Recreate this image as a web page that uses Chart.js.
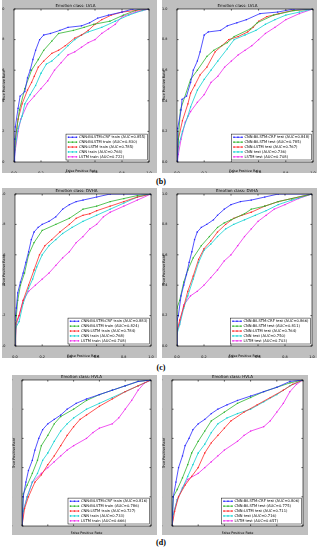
<!DOCTYPE html>
<html><head><meta charset="utf-8">
<script src="https://cdn.jsdelivr.net/npm/chart.js@4.4.1/dist/chart.umd.min.js"></script>
<style>
html,body{margin:0;padding:0;background:#fff;width:320px;height:550px;overflow:hidden;position:relative}
.panel{position:absolute;background:#bfbfbf}
.panel canvas{display:block}
.lab{position:absolute;font-family:"Liberation Serif","DejaVu Serif",serif;font-weight:bold;font-size:8px;line-height:8px;width:24px;text-align:center;color:#000}
</style></head><body>
<div class="lab" style="left:149px;top:178px">(b)</div>
<div class="lab" style="left:149px;top:364px">(c)</div>
<div class="lab" style="left:149px;top:539px">(d)</div>
<script>
// ---------- data ----------
const MODELS = ['CNN-BiLSTM-CRF', 'CNN-BiLSTM', 'CNN-LSTM', 'CNN', 'LSTM'];
const CLASSES = ['LVLA', 'DVHA', 'HVLA'];
const SPLITS = ['train', 'test'];
const TICKS = [0.0, 0.2, 0.4, 0.6, 0.8, 1.0];

const LVLA_TRAIN_AUC = [0.855, 0.830, 0.785, 0.764, 0.722];
const LVLA_TEST_AUC  = [0.848, 0.785, 0.767, 0.736, 0.708];
const DVHA_TRAIN_AUC = [0.883, 0.824, 0.784, 0.768, 0.708];
const DVHA_TEST_AUC  = [0.866, 0.811, 0.764, 0.750, 0.703];
const HVLA_TRAIN_AUC = [0.816, 0.786, 0.727, 0.733, 0.666];
const HVLA_TEST_AUC  = [0.806, 0.775, 0.711, 0.716, 0.657];

// ROC points [FPR, TPR]
const LVLA_TRAIN_CRF = [[0,0],[0.005,0.15],[0.01,0.23],[0.03,0.35],[0.045,0.43],[0.08,0.46],[0.1,0.55],[0.12,0.6],[0.14,0.67],[0.16,0.73],[0.19,0.8],[0.22,0.83],[0.27,0.84],[0.34,0.86],[0.4,0.88],[0.5,0.89],[0.56,0.91],[0.62,0.94],[0.7,0.96],[0.8,0.98],[0.88,1.0],[1,1]];
const LVLA_TRAIN_BIL = [[0,0],[0.01,0.15],[0.04,0.34],[0.08,0.48],[0.13,0.6],[0.18,0.67],[0.22,0.73],[0.28,0.79],[0.33,0.84],[0.44,0.86],[0.52,0.88],[0.59,0.9],[0.71,0.92],[0.81,0.96],[0.93,1.0],[1,1]];
const LVLA_TRAIN_CL  = [[0,0],[0.01,0.15],[0.03,0.28],[0.06,0.38],[0.1,0.47],[0.13,0.52],[0.15,0.56],[0.18,0.62],[0.22,0.66],[0.28,0.71],[0.33,0.73],[0.38,0.76],[0.45,0.81],[0.5,0.83],[0.55,0.86],[0.6,0.9],[0.65,0.93],[0.72,0.96],[0.8,0.98],[0.9,0.99],[1,1]];
const LVLA_TRAIN_CNN = [[0,0],[0.01,0.1],[0.03,0.22],[0.06,0.3],[0.08,0.38],[0.12,0.44],[0.16,0.5],[0.2,0.58],[0.24,0.64],[0.28,0.66],[0.33,0.7],[0.4,0.76],[0.45,0.8],[0.5,0.83],[0.55,0.85],[0.65,0.88],[0.75,0.92],[0.85,0.96],[0.95,0.99],[1,1]];
const LVLA_TRAIN_LST = [[0,0],[0.01,0.08],[0.03,0.2],[0.05,0.28],[0.1,0.38],[0.15,0.43],[0.2,0.48],[0.25,0.53],[0.3,0.6],[0.35,0.65],[0.4,0.7],[0.45,0.72],[0.5,0.75],[0.55,0.78],[0.6,0.8],[0.65,0.84],[0.7,0.87],[0.75,0.9],[0.8,0.95],[0.9,0.98],[1,1]];

const LVLA_TEST_CRF = [[0,0],[0.005,0.22],[0.03,0.34],[0.037,0.41],[0.07,0.43],[0.1,0.52],[0.12,0.6],[0.15,0.66],[0.17,0.72],[0.2,0.83],[0.23,0.85],[0.32,0.86],[0.37,0.89],[0.44,0.91],[0.51,0.93],[0.61,0.97],[0.74,0.98],[0.86,1.0],[1,1]];
const LVLA_TEST_BIL = [[0,0],[0.01,0.15],[0.025,0.34],[0.1,0.54],[0.15,0.6],[0.22,0.69],[0.27,0.73],[0.37,0.78],[0.42,0.82],[0.54,0.87],[0.59,0.91],[0.71,0.96],[0.86,0.99],[1,1]];
const LVLA_TEST_CL  = [[0,0],[0.01,0.15],[0.04,0.27],[0.08,0.38],[0.1,0.45],[0.13,0.5],[0.17,0.57],[0.22,0.62],[0.28,0.72],[0.33,0.76],[0.38,0.8],[0.45,0.82],[0.52,0.85],[0.56,0.88],[0.6,0.92],[0.66,0.95],[0.75,0.97],[0.85,0.99],[1,1]];
const LVLA_TEST_CNN = [[0,0],[0.01,0.1],[0.04,0.2],[0.08,0.3],[0.1,0.36],[0.15,0.47],[0.2,0.54],[0.25,0.6],[0.3,0.66],[0.37,0.74],[0.42,0.8],[0.5,0.83],[0.58,0.86],[0.65,0.9],[0.72,0.93],[0.8,0.96],[0.9,0.98],[1,1]];
const LVLA_TEST_LST = [[0,0],[0.01,0.05],[0.03,0.15],[0.06,0.26],[0.1,0.33],[0.15,0.39],[0.2,0.44],[0.25,0.52],[0.3,0.56],[0.35,0.62],[0.4,0.66],[0.45,0.7],[0.5,0.73],[0.55,0.76],[0.6,0.8],[0.65,0.84],[0.72,0.88],[0.8,0.93],[0.9,0.97],[1,1]];

const DVHA_TRAIN_CRF = [[0,0],[0,0.17],[0.01,0.25],[0.02,0.35],[0.04,0.42],[0.06,0.48],[0.08,0.55],[0.1,0.62],[0.12,0.7],[0.14,0.75],[0.17,0.78],[0.2,0.8],[0.25,0.82],[0.3,0.85],[0.35,0.9],[0.4,0.93],[0.45,0.95],[0.5,0.96],[0.6,0.98],[0.7,1.0],[1,1]];
const DVHA_TRAIN_BIL = [[0,0],[0.01,0.2],[0.02,0.3],[0.04,0.4],[0.07,0.48],[0.1,0.6],[0.14,0.68],[0.2,0.76],[0.3,0.8],[0.4,0.84],[0.5,0.9],[0.6,0.92],[0.7,0.95],[0.8,0.97],[0.9,0.99],[1,1]];
const DVHA_TRAIN_CL  = [[0,0],[0.005,0.15],[0.03,0.2],[0.06,0.3],[0.1,0.4],[0.14,0.5],[0.18,0.6],[0.22,0.66],[0.27,0.7],[0.33,0.75],[0.4,0.8],[0.45,0.84],[0.5,0.86],[0.55,0.87],[0.6,0.89],[0.7,0.92],[0.8,0.95],[0.9,0.98],[1,1]];
const DVHA_TRAIN_CNN = [[0,0],[0.005,0.12],[0.03,0.16],[0.06,0.28],[0.1,0.38],[0.13,0.44],[0.16,0.52],[0.2,0.6],[0.25,0.66],[0.3,0.7],[0.35,0.74],[0.42,0.78],[0.5,0.82],[0.6,0.86],[0.7,0.9],[0.8,0.94],[0.9,0.98],[1,1]];
const DVHA_TRAIN_LST = [[0,0],[0.01,0.14],[0.03,0.2],[0.06,0.3],[0.1,0.36],[0.15,0.4],[0.2,0.44],[0.25,0.48],[0.3,0.53],[0.35,0.58],[0.4,0.62],[0.45,0.68],[0.5,0.72],[0.55,0.77],[0.6,0.8],[0.65,0.85],[0.7,0.88],[0.8,0.92],[0.9,0.96],[1,1]];

const DVHA_TEST_CRF = [[0,0],[0,0.17],[0.01,0.2],[0.03,0.33],[0.05,0.4],[0.07,0.47],[0.09,0.55],[0.11,0.62],[0.13,0.7],[0.15,0.75],[0.18,0.78],[0.22,0.8],[0.27,0.83],[0.3,0.86],[0.35,0.9],[0.4,0.93],[0.47,0.95],[0.55,0.96],[0.65,0.98],[0.75,1.0],[1,1]];
const DVHA_TEST_BIL = [[0,0],[0,0.25],[0.02,0.3],[0.05,0.42],[0.08,0.5],[0.12,0.58],[0.18,0.66],[0.24,0.72],[0.3,0.78],[0.35,0.81],[0.4,0.83],[0.5,0.87],[0.55,0.9],[0.65,0.92],[0.75,0.95],[0.85,0.97],[1,1]];
const DVHA_TEST_CL  = [[0,0],[0,0.1],[0.02,0.17],[0.05,0.26],[0.08,0.36],[0.12,0.46],[0.16,0.57],[0.2,0.64],[0.25,0.69],[0.3,0.75],[0.36,0.8],[0.42,0.84],[0.48,0.86],[0.55,0.88],[0.65,0.92],[0.75,0.95],[0.85,0.97],[1,1]];
const DVHA_TEST_CNN = [[0,0],[0,0.08],[0.02,0.14],[0.05,0.25],[0.08,0.33],[0.12,0.44],[0.16,0.55],[0.2,0.63],[0.25,0.67],[0.3,0.72],[0.36,0.77],[0.42,0.8],[0.5,0.83],[0.58,0.86],[0.66,0.89],[0.75,0.93],[0.85,0.96],[1,1]];
const DVHA_TEST_LST = [[0,0],[0,0.1],[0.02,0.15],[0.05,0.27],[0.1,0.33],[0.15,0.36],[0.2,0.4],[0.25,0.45],[0.3,0.5],[0.35,0.56],[0.4,0.6],[0.45,0.66],[0.5,0.72],[0.55,0.77],[0.6,0.82],[0.66,0.86],[0.72,0.9],[0.8,0.93],[0.9,0.97],[1,1]];

const HVLA_TRAIN_CRF = [[0,0],[0.01,0.2],[0.03,0.3],[0.05,0.38],[0.08,0.45],[0.1,0.52],[0.13,0.6],[0.16,0.66],[0.2,0.7],[0.25,0.73],[0.3,0.76],[0.35,0.8],[0.42,0.84],[0.5,0.87],[0.6,0.9],[0.7,0.93],[0.8,0.96],[0.9,0.99],[1,1]];
const HVLA_TRAIN_BIL = [[0,0],[0.01,0.22],[0.04,0.28],[0.08,0.36],[0.12,0.45],[0.15,0.55],[0.2,0.62],[0.25,0.7],[0.3,0.75],[0.4,0.8],[0.5,0.86],[0.6,0.9],[0.7,0.93],[0.8,0.96],[0.9,0.99],[1,1]];
const HVLA_TRAIN_CL  = [[0,0],[0.02,0.12],[0.05,0.2],[0.1,0.3],[0.15,0.35],[0.2,0.42],[0.25,0.48],[0.3,0.55],[0.35,0.62],[0.4,0.68],[0.45,0.73],[0.5,0.76],[0.6,0.82],[0.7,0.87],[0.8,0.92],[0.9,0.96],[1,1]];
const HVLA_TRAIN_CNN = [[0,0],[0.01,0.1],[0.04,0.2],[0.08,0.3],[0.12,0.36],[0.16,0.45],[0.2,0.5],[0.25,0.58],[0.3,0.65],[0.35,0.7],[0.4,0.74],[0.5,0.8],[0.6,0.84],[0.7,0.88],[0.8,0.92],[0.9,0.96],[1,1]];
const HVLA_TRAIN_LST = [[0,0],[0.01,0.1],[0.04,0.2],[0.08,0.3],[0.15,0.36],[0.2,0.4],[0.25,0.44],[0.3,0.48],[0.35,0.52],[0.4,0.55],[0.5,0.6],[0.55,0.64],[0.6,0.67],[0.7,0.7],[0.75,0.74],[0.8,0.8],[0.85,0.86],[0.9,0.93],[0.95,0.98],[1,1]];

const HVLA_TEST_CRF = [[0,0],[0.01,0.2],[0.03,0.3],[0.05,0.4],[0.08,0.48],[0.1,0.55],[0.13,0.6],[0.16,0.66],[0.2,0.7],[0.25,0.73],[0.3,0.77],[0.35,0.8],[0.42,0.83],[0.5,0.86],[0.6,0.89],[0.7,0.92],[0.8,0.95],[0.9,0.99],[1,1]];
const HVLA_TEST_BIL = [[0,0],[0.01,0.2],[0.04,0.25],[0.08,0.33],[0.12,0.42],[0.15,0.5],[0.2,0.58],[0.25,0.65],[0.3,0.72],[0.4,0.78],[0.5,0.84],[0.6,0.88],[0.7,0.92],[0.8,0.95],[0.9,0.98],[1,1]];
const HVLA_TEST_CL  = [[0,0],[0.02,0.1],[0.05,0.2],[0.1,0.28],[0.15,0.34],[0.2,0.4],[0.25,0.5],[0.3,0.57],[0.35,0.62],[0.4,0.67],[0.45,0.72],[0.55,0.78],[0.65,0.83],[0.75,0.88],[0.85,0.93],[0.92,0.97],[1,1]];
const HVLA_TEST_CNN = [[0,0],[0.01,0.08],[0.04,0.18],[0.08,0.26],[0.12,0.34],[0.16,0.42],[0.2,0.5],[0.25,0.56],[0.3,0.64],[0.35,0.7],[0.42,0.74],[0.5,0.77],[0.6,0.8],[0.7,0.85],[0.8,0.9],[0.9,0.96],[1,1]];
const HVLA_TEST_LST = [[0,0],[0.01,0.08],[0.04,0.18],[0.08,0.26],[0.12,0.32],[0.2,0.36],[0.25,0.4],[0.3,0.44],[0.35,0.48],[0.4,0.52],[0.5,0.58],[0.55,0.62],[0.6,0.65],[0.7,0.68],[0.75,0.72],[0.8,0.78],[0.85,0.84],[0.9,0.92],[0.95,0.97],[1,1]];

// ---------- styles / layout ----------
const COLORS = ['#2a2aff', '#2fb52f', '#ff2a2a', '#10d2d2', '#ee2aee'];
const FONT = '"DejaVu Sans", "Liberation Sans", sans-serif';

const PANELS = [
  {cls: CLASSES[0], split: SPLITS[0], auc: LVLA_TRAIN_AUC, curves: [LVLA_TRAIN_CRF, LVLA_TRAIN_BIL, LVLA_TRAIN_CL, LVLA_TRAIN_CNN, LVLA_TRAIN_LST],
   box: {x: 2, y: 0, w: 155, h: 173}, plot: {l: 14, t: 9, r: 149, b: 162}},
  {cls: CLASSES[0], split: SPLITS[1], auc: LVLA_TEST_AUC, curves: [LVLA_TEST_CRF, LVLA_TEST_BIL, LVLA_TEST_CL, LVLA_TEST_CNN, LVLA_TEST_LST],
   box: {x: 162, y: 0, w: 155, h: 173}, plot: {l: 177, t: 9, r: 313, b: 162}},
  {cls: CLASSES[1], split: SPLITS[0], auc: DVHA_TRAIN_AUC, curves: [DVHA_TRAIN_CRF, DVHA_TRAIN_BIL, DVHA_TRAIN_CL, DVHA_TRAIN_CNN, DVHA_TRAIN_LST],
   box: {x: 2, y: 188, w: 155, h: 170}, plot: {l: 15, t: 194, r: 151, b: 346}},
  {cls: CLASSES[1], split: SPLITS[1], auc: DVHA_TEST_AUC, curves: [DVHA_TEST_CRF, DVHA_TEST_BIL, DVHA_TEST_CL, DVHA_TEST_CNN, DVHA_TEST_LST],
   box: {x: 162, y: 188, w: 155, h: 170}, plot: {l: 177, t: 194, r: 312, b: 346}},
  {cls: CLASSES[2], split: SPLITS[0], auc: HVLA_TRAIN_AUC, curves: [HVLA_TRAIN_CRF, HVLA_TRAIN_BIL, HVLA_TRAIN_CL, HVLA_TRAIN_CNN, HVLA_TRAIN_LST],
   box: {x: 12, y: 375, w: 145, h: 160}, plot: {l: 22, t: 380, r: 151, b: 526}},
  {cls: CLASSES[2], split: SPLITS[1], auc: HVLA_TEST_AUC, curves: [HVLA_TEST_CRF, HVLA_TEST_BIL, HVLA_TEST_CL, HVLA_TEST_CNN, HVLA_TEST_LST],
   box: {x: 162, y: 375, w: 146, h: 160}, plot: {l: 172, t: 380, r: 303, b: 526}}
];

const framePlugin = {
  id: 'frame',
  beforeDatasetsDraw(chart) {
    const ctx = chart.ctx, a = chart.chartArea;
    ctx.save();
    ctx.fillStyle = '#ffffff';
    ctx.fillRect(a.left, a.top, a.right - a.left, a.bottom - a.top);
    ctx.restore();
  },
  afterDatasetsDraw(chart) {
    const ctx = chart.ctx, a = chart.chartArea;
    const xs = chart.scales.x, ys = chart.scales.y;
    ctx.save();
    ctx.strokeStyle = '#000';
    ctx.lineWidth = 0.6;
    ctx.strokeRect(a.left, a.top, a.right - a.left, a.bottom - a.top);
    ctx.beginPath();
    TICKS.forEach(v => {
      const px = xs.getPixelForValue(v), py = ys.getPixelForValue(v);
      ctx.moveTo(px, a.bottom); ctx.lineTo(px, a.bottom - 1.6);
      ctx.moveTo(px, a.top); ctx.lineTo(px, a.top + 1.6);
      ctx.moveTo(a.left, py); ctx.lineTo(a.left + 1.6, py);
      ctx.moveTo(a.right, py); ctx.lineTo(a.right - 1.6, py);
    });
    ctx.stroke();
    ctx.restore();
  },
  afterDraw(chart) {
    const ctx = chart.ctx, a = chart.chartArea;
    const ds = chart.data.datasets;
    ctx.save();
    ctx.font = '3.7px ' + FONT;
    const tw = Math.max(...ds.map(d => ctx.measureText(d.label).width));
    const rowH = 4.9;
    const w = tw + 15, h = rowH * ds.length + 1.4;
    const x0 = a.right - 1.5 - w, y0 = a.bottom - 2 - h;
    ctx.fillStyle = '#fff';
    ctx.fillRect(x0, y0, w, h);
    ctx.strokeStyle = '#000';
    ctx.lineWidth = 0.5;
    ctx.strokeRect(x0, y0, w, h);
    ds.forEach((d, i) => {
      const cy = y0 + 0.7 + rowH * (i + 0.5);
      ctx.strokeStyle = d.borderColor;
      ctx.lineWidth = 0.8;
      ctx.beginPath(); ctx.moveTo(x0 + 2, cy); ctx.lineTo(x0 + 11, cy); ctx.stroke();
      ctx.fillStyle = d.borderColor;
      [x0 + 2.5, x0 + 6.5, x0 + 10.5].forEach(px => ctx.fillRect(px - 0.7, cy - 0.7, 1.4, 1.4));
      ctx.fillStyle = '#000';
      ctx.textBaseline = 'middle';
      ctx.fillText(d.label, x0 + 13, cy + 0.2);
    });
    ctx.restore();
  }
};

PANELS.forEach(p => {
  const div = document.createElement('div');
  div.className = 'panel';
  div.style.left = p.box.x + 'px'; div.style.top = p.box.y + 'px';
  div.style.width = p.box.w + 'px'; div.style.height = p.box.h + 'px';
  const cv = document.createElement('canvas');
  cv.width = p.box.w; cv.height = p.box.h;
  cv.style.width = p.box.w + 'px'; cv.style.height = p.box.h + 'px';
  div.appendChild(cv);
  document.body.appendChild(div);

  const yW = p.plot.l - p.box.x;
  const padR = p.box.x + p.box.w - p.plot.r;
  const topOff = p.plot.t - p.box.y;
  const xH = p.box.y + p.box.h - p.plot.b;

  const datasets = MODELS.map((m, i) => ({
    label: m + ' ' + p.split + ' (AUC=' + p.auc[i].toFixed(3) + ')',
    data: p.curves[i].map(pt => ({x: pt[0], y: pt[1]})),
    borderColor: COLORS[i],
    backgroundColor: COLORS[i],
    borderWidth: 0.8,
    pointRadius: 0.9,
    pointStyle: 'rect',
    pointBorderWidth: 0,
    tension: 0,
    fill: false
  }));

  const tickFont = {family: FONT, size: 3.4};
  new Chart(cv, {
    type: 'line',
    data: {datasets},
    options: {
      responsive: false,
      animation: false,
      devicePixelRatio: 1,
      layout: {padding: {left: 0, right: padR, top: 0, bottom: 0}},
      plugins: {
        legend: {display: false},
        tooltip: {enabled: false},
        title: {display: true, text: 'Emotion class: ' + p.cls, color: '#000',
                font: {family: FONT, size: 4, weight: 'normal', lineHeight: 1},
                padding: {top: Math.max(0, topOff - 5), bottom: 1}}
      },
      scales: {
        x: {
          type: 'linear', min: 0, max: 1,
          grid: {display: false}, border: {display: false},
          ticks: {stepSize: 0.2, autoSkip: false, maxRotation: 0, padding: 1.5, color: '#000', font: tickFont,
                  callback: v => Number(v).toFixed(1)},
          title: {display: true, text: 'False Positive Rate', color: '#000', font: tickFont, padding: {top: 0.5, bottom: 0}},
          afterFit: s => { s.height = xH; s.paddingLeft = 0; s.paddingRight = 0; }
        },
        y: {
          type: 'linear', min: 0, max: 1,
          grid: {display: false}, border: {display: false},
          ticks: {stepSize: 0.2, autoSkip: false, padding: 1.5, color: '#000', font: tickFont,
                  callback: v => Number(v).toFixed(1)},
          title: {display: true, text: 'True Positive Rate', color: '#000', font: tickFont, padding: {top: 0, bottom: 0.5}},
          afterFit: s => { s.width = yW; s.paddingTop = 0; s.paddingBottom = 0; }
        }
      }
    },
    plugins: [framePlugin]
  });
});
</script>
</body></html>
